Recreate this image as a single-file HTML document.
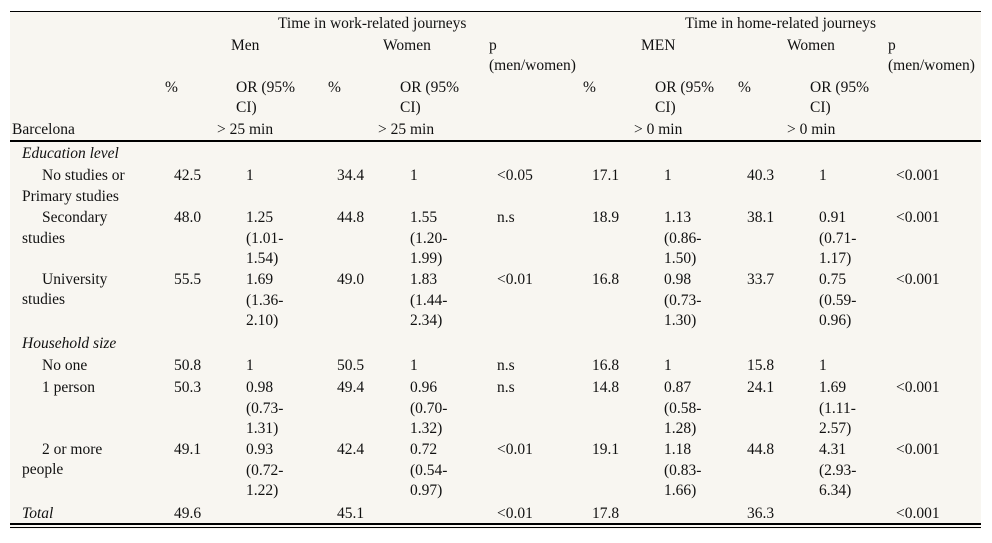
<!DOCTYPE html>
<html><head><meta charset="utf-8"><style>
body{margin:0;background:#fff;width:992px;height:543px;position:relative;overflow:hidden;font-family:"Liberation Serif",serif;font-size:15.5px;color:#111}
#tbl{position:absolute;left:10px;top:11px;width:971px;height:518px;background:#f8f6f1}
.t{position:absolute;white-space:nowrap;line-height:16px}
.i{font-style:italic}
.ln{position:absolute;left:10px;width:971px;background:#000}
</style></head><body>
<div id="tbl"></div>
<div class="ln" style="top:11px;height:1px"></div>
<div class="ln" style="top:140px;height:2px"></div>
<div class="ln" style="top:523px;height:2px"></div>
<div class="ln" style="top:527px;height:1px"></div>
<div id="cells"></div>
<script>
// [x, centerY, text, italic]
const cells = [
[278,23,"Time in work-related journeys"],[685,23,"Time in home-related journeys"],
[231,45,"Men"],[383,45,"Women"],[489,45,"p"],[489,65,"(men/women)"],
[641,45,"MEN"],[787,45,"Women"],[888,45,"p"],[888,65,"(men/women)"],
[165,87,"%"],[236,87,"OR (95%"],[236,107,"CI)"],[328,87,"%"],[400,87,"OR (95%"],[400,107,"CI)"],
[583,87,"%"],[655,87,"OR (95%"],[655,107,"CI)"],[738,87,"%"],[810,87,"OR (95%"],[810,107,"CI)"],
[12,129,"Barcelona"],[217,129,"> 25 min"],[378,129,"> 25 min"],[634,129,"> 0 min"],[787,129,"> 0 min"],
[22,153,"Education level",1],
[42,175,"No studies or"],[22,196,"Primary studies"],
[42,217,"Secondary"],[22,238,"studies"],
[42,279,"University"],[22,299,"studies"],
[22,343,"Household size",1],
[42,365,"No one"],[42,387,"1 person"],[42,449,"2 or more"],[22,469,"people"],
[22,513,"Total",1]
];
// data rows: centerY and values for each column
const rowY = [175,217,279,365,387,449,513];
const colX = [174,246,337,410,497,592,664,747,819,896];
const rows = [
["42.5","1","34.4","1","<0.05","17.1","1","40.3","1","<0.001"],
["48.0","1.25|(1.01-|1.54)","44.8","1.55|(1.20-|1.99)","n.s","18.9","1.13|(0.86-|1.50)","38.1","0.91|(0.71-|1.17)","<0.001"],
["55.5","1.69|(1.36-|2.10)","49.0","1.83|(1.44-|2.34)","<0.01","16.8","0.98|(0.73-|1.30)","33.7","0.75|(0.59-|0.96)","<0.001"],
["50.8","1","50.5","1","n.s","16.8","1","15.8","1",""],
["50.3","0.98|(0.73-|1.31)","49.4","0.96|(0.70-|1.32)","n.s","14.8","0.87|(0.58-|1.28)","24.1","1.69|(1.11-|2.57)","<0.001"],
["49.1","0.93|(0.72-|1.22)","42.4","0.72|(0.54-|0.97)","<0.01","19.1","1.18|(0.83-|1.66)","44.8","4.31|(2.93-|6.34)","<0.001"],
["49.6","","45.1","","<0.01","17.8","","36.3","","<0.001"]
];
const host=document.getElementById('cells');
function put(x,y,txt,it){
  const d=document.createElement('div');
  d.className='t'+(it?' i':'');
  d.style.left=x+'px';d.style.top=(y-7)+'px';
  d.textContent=txt;
  
  
  host.appendChild(d);
}
cells.forEach(c=>put(c[0],c[1],c[2],c[3]));
rows.forEach((r,ri)=>r.forEach((v,ci)=>{
  if(!v)return;
  v.split('|').forEach((p,k)=>put(colX[ci],rowY[ri]+k*20.5,p));
}));
</script>
</body></html>
